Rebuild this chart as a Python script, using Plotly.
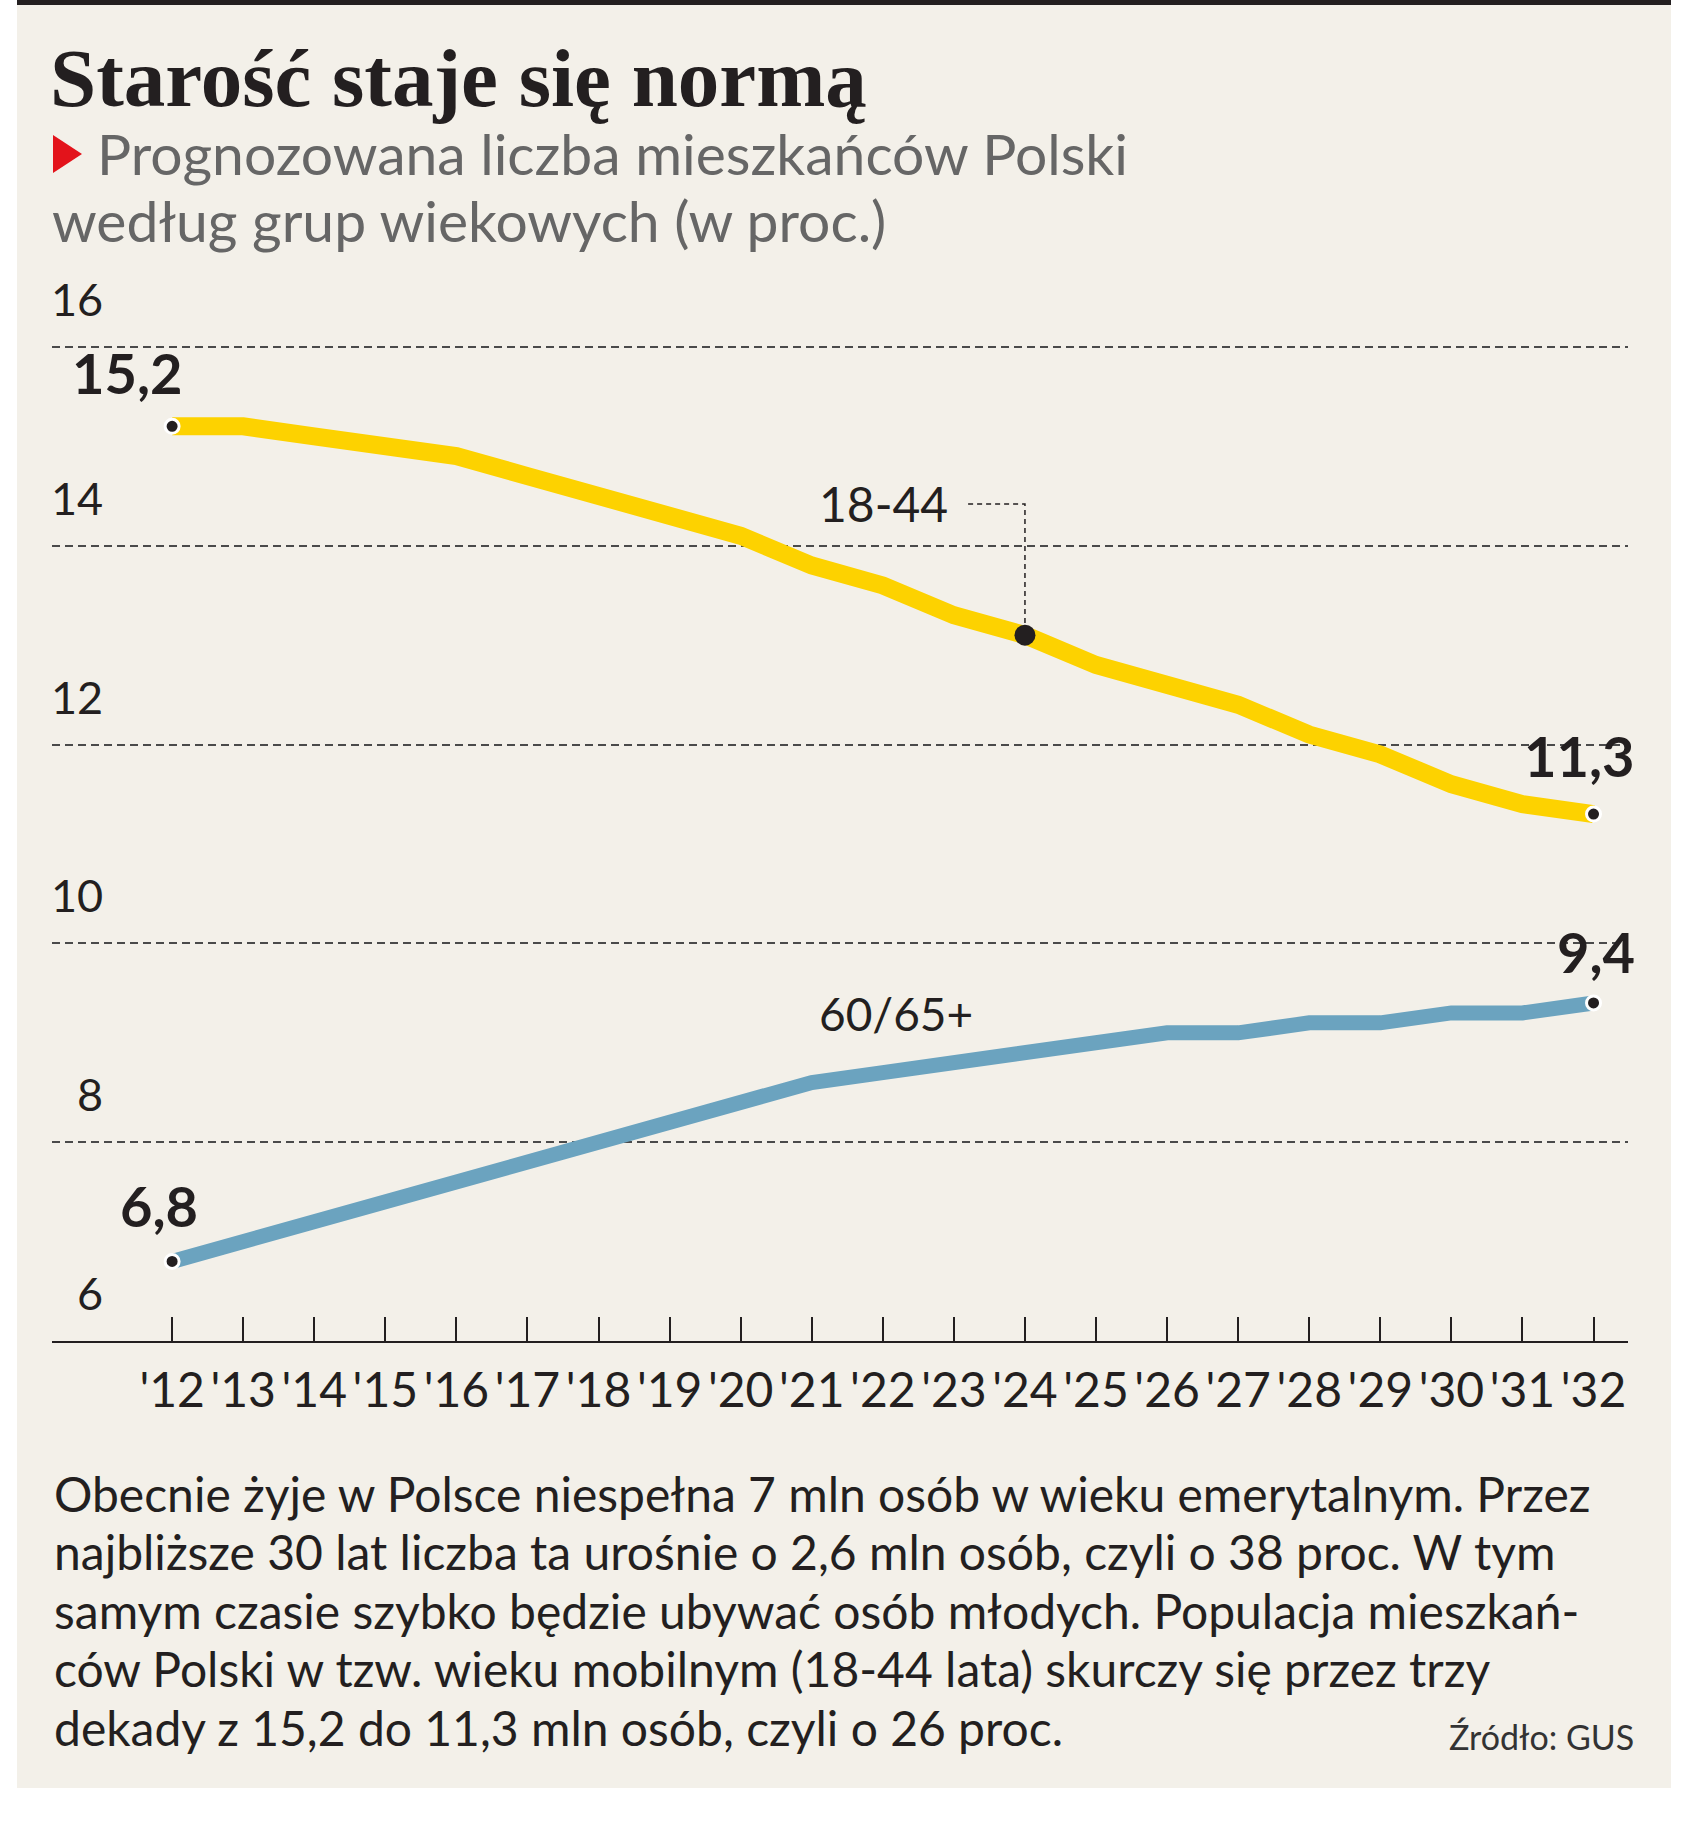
import plotly.graph_objects as go

# ---------------- data ----------------
years = list(range(2012, 2033))
year_labels = ["'" + str(y)[2:] for y in years]
young_18_44 = [15.2, 15.2, 15.1, 15.0, 14.9, 14.7, 14.5, 14.3, 14.1, 13.8, 13.6,
               13.3, 13.1, 12.8, 12.6, 12.4, 12.1, 11.9, 11.6, 11.4, 11.3]
old_60_65 = [6.8, 7.0, 7.2, 7.4, 7.6, 7.8, 8.0, 8.2, 8.4, 8.6, 8.7,
             8.8, 8.9, 9.0, 9.1, 9.1, 9.2, 9.2, 9.3, 9.3, 9.4]
y_ticks = [6, 8, 10, 12, 14, 16]
y_tick_labels = ["6", "8", "10", "12", "14", "16"]
highlight_year = 2024

title = "Starość staje się normą"
subtitle_1 = "Prognozowana liczba mieszkańców Polski"
subtitle_2 = "według grup wiekowych (w proc.)"
body_lines = [
    "Obecnie żyje w Polsce niespełna 7 mln osób w wieku emerytalnym. Przez",
    "najbliższe 30 lat liczba ta urośnie o 2,6 mln osób, czyli o 38 proc. W tym",
    "samym czasie szybko będzie ubywać osób młodych. Populacja mieszkań-",
    "ców Polski w tzw. wieku mobilnym (18-44 lata) skurczy się przez trzy",
    "dekady z 15,2 do 11,3 mln osób, czyli o 26 proc.",
]
source = "Źródło: GUS"

# ---------------- layout geometry ----------------
W, H = 1705, 1837
Y_TOP = 16.3
L, R, B = 52, 77, 496
T = round(1341 - (Y_TOP - 6) * 99.4)
PW, PH = W - L - R, H - T - B


def px(x):
    return (x - L) / PW


def py(y):
    return (H - B - y) / PH


INK = "#231f20"
BG = "#F3F0E9"
YELLOW = "#FDD200"
BLUE = "#6BA3BF"
SANS = "Lato, 'Open Sans', sans-serif"
SERIF = "'Liberation Serif', 'DejaVu Serif', serif"


def fmt(v):
    return f"{v:.1f}".replace(".", ",")


fig = go.Figure()

fig.add_trace(go.Scatter(x=years, y=young_18_44, mode="lines",
                         line=dict(color=YELLOW, width=18), hoverinfo="skip"))
fig.add_trace(go.Scatter(x=years, y=old_60_65, mode="lines",
                         line=dict(color=BLUE, width=15), hoverinfo="skip"))
# end markers
fig.add_trace(go.Scatter(
    x=[years[0], years[-1], years[0], years[-1]],
    y=[young_18_44[0], young_18_44[-1], old_60_65[0], old_60_65[-1]],
    mode="markers",
    marker=dict(size=14, color=INK, line=dict(color="white", width=3)),
    hoverinfo="skip"))
hi = years.index(highlight_year)
fig.add_trace(go.Scatter(x=[highlight_year], y=[young_18_44[hi]], mode="markers",
                         marker=dict(size=21, color=INK), hoverinfo="skip"))

shapes = [
    dict(type="rect", xref="paper", yref="paper", x0=px(17), x1=px(1671),
         y0=py(1788), y1=py(0), fillcolor=BG, line=dict(width=0), layer="below"),
    dict(type="rect", xref="paper", yref="paper", x0=px(17), x1=px(1671),
         y0=py(5), y1=py(0), fillcolor=INK, line=dict(width=0), layer="below"),
    dict(type="path", xref="paper", yref="paper",
         path=f"M {px(53)},{py(135)} L {px(82)},{py(154)} L {px(53)},{py(173)} Z",
         fillcolor="#E3131B", line=dict(width=0)),
    # leader for 18-44 label
    dict(type="path", xref="x", yref="y",
         path=f"M {2023.2},{14.42} L {highlight_year},{14.42} L {highlight_year},{young_18_44[hi] + 0.1}",
         line=dict(color=INK, width=1.5, dash="5px,4px")),
]

ann = []
UP = 2  # small correction of annotation vertical centring


def text(x, y, s, size, xanchor="left", color=INK, family=SANS, bold=False, ref="paper"):
    ann.append(dict(x=x, y=y, xref=ref, yref=ref, text=s, showarrow=False,
                    xanchor=xanchor, yanchor="middle", yshift=UP,
                    font=dict(size=size, color=color, family=family,
                              weight="bold" if bold else "normal")))


text(px(48), py(80), title, 83, family=SERIF, bold=True)
text(px(95), py(155), subtitle_1, 57, color="#666666")
text(px(50), py(222), subtitle_2, 57, color="#666666")

for v, lab in zip(y_ticks, y_tick_labels):
    ann.append(dict(x=px(105), y=v, xref="paper", yref="y", yshift=46 + UP, text=lab,
                    showarrow=False, xanchor="right", yanchor="middle",
                    font=dict(size=45, color=INK, family=SANS)))

# value labels
for xv, yv, dx, dy in [(years[0], young_18_44[0], -45, 52),
                       (years[-1], young_18_44[-1], -14, 57),
                       (years[-1], old_60_65[-1], 2, 49),
                       (years[0], old_60_65[0], -13, 54)]:
    ann.append(dict(x=xv, y=yv, xref="x", yref="y", xshift=dx, yshift=dy + UP,
                    text=fmt(yv), showarrow=False, xanchor="center", yanchor="middle",
                    font=dict(size=56, color=INK, family=SANS, weight="bold")))

# series labels
ann.append(dict(x=2021.08, y=14.40, xref="x", yref="y", text="18-44", showarrow=False,
                xanchor="left", yanchor="middle", yshift=UP,
                font=dict(size=48, color=INK, family=SANS)))
ann.append(dict(x=2021.08, y=9.27, xref="x", yref="y", text="60/65+", showarrow=False,
                xanchor="left", yanchor="middle", yshift=UP,
                font=dict(size=46, color=INK, family=SANS)))

body_mid = [1495, 1553, 1612, 1670, 1729]
for s, m in zip(body_lines, body_mid):
    text(px(52), py(m), s, 48)
text(px(1636), py(1738), source, 34, xanchor="right", color="#333333")

fig.update_layout(
    width=W, height=H,
    margin=dict(l=L, r=R, t=T, b=B, pad=0),
    paper_bgcolor="white", plot_bgcolor="rgba(0,0,0,0)",
    showlegend=False,
    shapes=shapes, annotations=ann,
    xaxis=dict(range=[2010.31, 2032.485], tickvals=years, ticktext=year_labels,
               ticks="inside", ticklen=24, tickwidth=1.5, tickcolor=INK,
               showline=True, linecolor=INK, linewidth=2, showgrid=False, zeroline=False,
               ticklabelstandoff=6,
               tickfont=dict(size=48, color=INK, family=SANS), fixedrange=True),
    yaxis=dict(range=[6, Y_TOP], tickvals=y_ticks, showticklabels=False, ticks="",
               showgrid=True, gridcolor="#4a4a4a", gridwidth=1.5, griddash="8px,5px",
               zeroline=False, showline=False, fixedrange=True),
)

fig.write_html("out.html", config={"displayModeBar": False},
               post_script="document.body.style.margin='0';")
